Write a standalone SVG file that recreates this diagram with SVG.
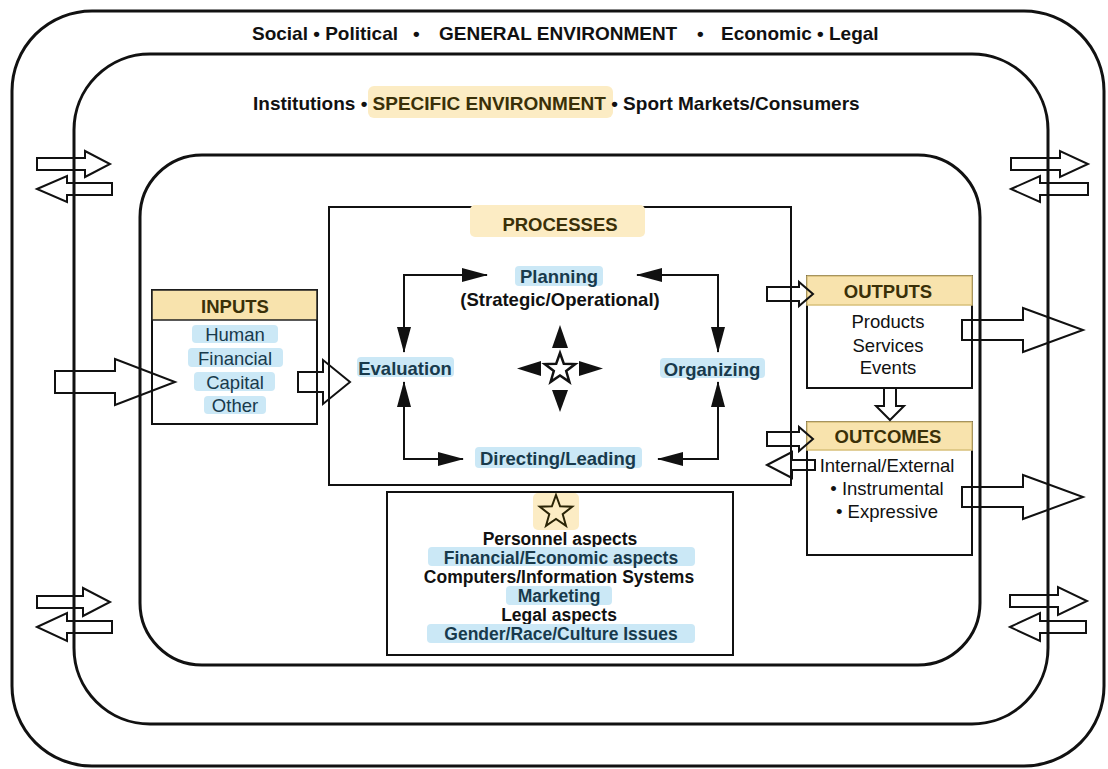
<svg xmlns="http://www.w3.org/2000/svg" width="1108" height="769" viewBox="0 0 1108 769">
<style>
.frame{fill:none;stroke:#111;stroke-width:3}
.box{fill:none;stroke:#111;stroke-width:2}
.ha{fill:none;stroke:#111;stroke-width:2;stroke-linejoin:miter}
.con{fill:none;stroke:#111;stroke-width:2}
.t{font-family:"Liberation Sans",Arial,Helvetica,sans-serif;font-weight:bold;fill:#111}
.r{font-family:"Liberation Sans",Arial,Helvetica,sans-serif;font-weight:normal;fill:#111}
.c{text-anchor:middle}
.blue{fill:#cbe8f6}
.yel{fill:#fcecc4}
.bt{fill:#183a4c}
.yt{fill:#3a3008}
.hdr{fill:#f8e3ad;stroke:#222;stroke-width:1.5}
.hdr2{fill:#f8e3ad;stroke:#d8c07a;stroke-width:1.5}
</style>
<defs>
<marker id="ah" markerWidth="26" markerHeight="14" refX="25" refY="7" orient="auto-start-reverse" markerUnits="userSpaceOnUse">
<path d="M0,0 L26,7 L0,14 Z" fill="#111"/>
</marker>
</defs>
<rect width="1108" height="769" fill="#fff"/>

<g id="general-environment">
<rect class="frame" x="12" y="11" width="1092" height="755" rx="80" ry="80"/>
<text class="t" font-size="19" y="40"><tspan x="252">Social • Political</tspan><tspan x="413">•</tspan><tspan x="439">GENERAL ENVIRONMENT</tspan><tspan x="697">•</tspan><tspan x="721">Economic • Legal</tspan></text>
</g>

<g id="specific-environment">
<rect class="frame" x="74" y="54" width="974" height="670" rx="76" ry="76"/>
<rect class="yel" x="368" y="86" width="245" height="32" rx="6"/>
<text class="t" font-size="19" y="110"><tspan x="253">Institutions • </tspan><tspan class="yt">SPECIFIC ENVIRONMENT</tspan><tspan> • Sport Markets/Consumers</tspan></text>
</g>

<g id="organization">
<rect class="frame" x="140" y="155" width="840" height="510" rx="62" ry="62"/>
</g>

<g id="processes">
<rect class="box" x="329" y="207" width="462" height="278"/>
<rect class="yel" x="470" y="205" width="175" height="32" rx="5"/>
<text class="t c yt" font-size="18.5" x="560" y="231">PROCESSES</text>
</g>

<g id="planning">
<rect class="blue" x="515" y="266" width="88" height="20" rx="4"/>
<text class="t c bt" font-size="18.5" x="559" y="283">Planning</text>
<text class="t c" font-size="18.5" x="560" y="306">(Strategic/Operational)</text>
</g>

<g id="evaluation">
<rect class="blue" x="357" y="357" width="97" height="20" rx="4"/>
<text class="t c bt" font-size="18.5" x="405" y="375">Evaluation</text>
</g>

<g id="organizing">
<rect class="blue" x="660" y="358" width="105" height="20" rx="4"/>
<text class="t c bt" font-size="18.5" x="712" y="376">Organizing</text>
</g>

<g id="directing">
<rect class="blue" x="475" y="447" width="167" height="21" rx="4"/>
<text class="t c bt" font-size="18.5" x="558" y="465">Directing/Leading</text>
</g>

<g id="compass">
<polygon points="552,348 568,348 560,325" fill="#111"/>
<polygon points="552,390 568,390 560,412" fill="#111"/>
<polygon points="541,361 541,376 517,368.5" fill="#111"/>
<polygon points="579,361 579,376 603,368.5" fill="#111"/>
<polygon points="560,353 563.8,363.7 575.2,364.1 566.2,371 569.4,381.9 560,375.5 550.6,381.9 553.8,371 544.8,364.1 556.2,363.7" fill="#fff" stroke="#111" stroke-width="2.5" stroke-linejoin="miter"/>
</g>

<g id="inputs">
<rect class="box" x="152" y="290" width="165" height="134"/>
<rect class="hdr" x="152" y="290" width="165" height="30"/>
<text class="t c yt" font-size="18.5" x="235" y="313">INPUTS</text>
<rect class="blue" x="192" y="325" width="86" height="18" rx="4"/>
<text class="r c bt" font-size="18.5" x="235" y="341">Human</text>
<rect class="blue" x="188" y="348" width="95" height="19" rx="4"/>
<text class="r c bt" font-size="18.5" x="235" y="365">Financial</text>
<rect class="blue" x="194" y="372" width="81" height="19" rx="4"/>
<text class="r c bt" font-size="18.5" x="235" y="389">Capital</text>
<rect class="blue" x="204" y="396" width="62" height="18" rx="4"/>
<text class="r c bt" font-size="18.5" x="235" y="412">Other</text>
</g>

<g id="outputs">
<rect class="box" x="807" y="276" width="165" height="112"/>
<rect class="hdr2" x="807" y="276" width="165" height="29"/>
<text class="t c yt" font-size="18.5" x="888" y="298">OUTPUTS</text>
<text class="r c" font-size="18.5" x="888" y="328">Products</text>
<text class="r c" font-size="18.5" x="888" y="352">Services</text>
<text class="r c" font-size="18.5" x="888" y="374">Events</text>
</g>

<g id="outcomes">
<rect class="box" x="807" y="422" width="165" height="133"/>
<rect class="hdr2" x="807" y="422" width="165" height="28"/>
<text class="t c yt" font-size="18.5" x="888" y="443">OUTCOMES</text>
<text class="r c" font-size="18.5" x="887" y="472">Internal/External</text>
<text class="r c" font-size="18.5" x="887" y="495">• Instrumental</text>
<text class="r c" font-size="18.5" x="887" y="518">• Expressive</text>
</g>

<g id="management-aspects">
<rect class="box" x="387" y="492" width="346" height="163"/>
<rect class="yel" x="533" y="493" width="46" height="37" rx="5"/>
<polygon points="556,495 560.1,506.3 572.2,506.7 562.7,514.2 566,525.8 556,519 546,525.8 549.3,514.2 539.8,506.7 551.9,506.3" fill="none" stroke="#2a2406" stroke-width="2" stroke-linejoin="miter"/>
<text class="t c" font-size="17.5" x="560" y="545">Personnel aspects</text>
<rect class="blue" x="428" y="547" width="267" height="19" rx="4"/>
<text class="t c bt" font-size="17.5" x="561" y="564">Financial/Economic aspects</text>
<text class="t c" font-size="17.5" x="559" y="583">Computers/Information Systems</text>
<rect class="blue" x="506" y="586" width="106" height="19" rx="4"/>
<text class="t c bt" font-size="17.5" x="559" y="602">Marketing</text>
<text class="t c" font-size="17.5" x="559" y="621">Legal aspects</text>
<rect class="blue" x="427" y="624" width="268" height="19" rx="4"/>
<text class="t c bt" font-size="17.5" x="561" y="640">Gender/Race/Culture Issues</text>
</g>

<g id="connectors">
<path class="con" d="M404,352 V275 H487" marker-start="url(#ah)" marker-end="url(#ah)"/>
<path class="con" d="M637,275 H718 V352" marker-start="url(#ah)" marker-end="url(#ah)"/>
<path class="con" d="M404,382 V459 H463" marker-start="url(#ah)" marker-end="url(#ah)"/>
<path class="con" d="M658,459 H718 V382" marker-start="url(#ah)" marker-end="url(#ah)"/>

<polygon class="ha" points="37,158 85,158 85,151 110,164 85,177 85,170 37,170"/>
<polygon class="ha" points="37,189 67,176 67,183 112,183 112,195 67,195 67,202"/>
<polygon class="ha" points="37,596 83,596 83,588 110,602 83,616 83,608 37,608"/>
<polygon class="ha" points="37,627 67,613 67,621 112,621 112,633 67,633 67,641"/>
<polygon class="ha" points="1011,158 1060,158 1060,151 1088,164 1060,177 1060,170 1011,170"/>
<polygon class="ha" points="1011,189 1040,176 1040,183 1088,183 1088,195 1040,195 1040,202"/>
<polygon class="ha" points="1010,595 1058,595 1058,587 1087,601 1058,615 1058,607 1010,607"/>
<polygon class="ha" points="1010,627 1040,613 1040,621 1086,621 1086,633 1040,633 1040,641"/>

<polygon class="ha" points="55,371 115,371 115,359 175,382 115,405 115,393 55,393"/>
<polygon class="ha" points="298,372 323,372 323,360 350,382 323,404 323,392 298,392"/>

<polygon class="ha" points="767,287 799,287 799,282 813,294 799,306 799,301 767,301"/>
<polygon class="ha" points="767,432 799,432 799,427 813,439 799,451 799,446 767,446"/>
<polygon class="ha" points="767,465 792,452 792,460 815,460 815,470 792,470 792,478"/>
<polygon class="ha" points="884,388 896,388 896,406 904,406 890,420 876,406 884,406"/>

<polygon class="ha" points="962,320 1023,320 1023,308 1083,330 1023,352 1023,340 962,340"/>
<polygon class="ha" points="962,487 1023,487 1023,475 1083,497 1023,519 1023,507 962,507"/>
</g>
</svg>
